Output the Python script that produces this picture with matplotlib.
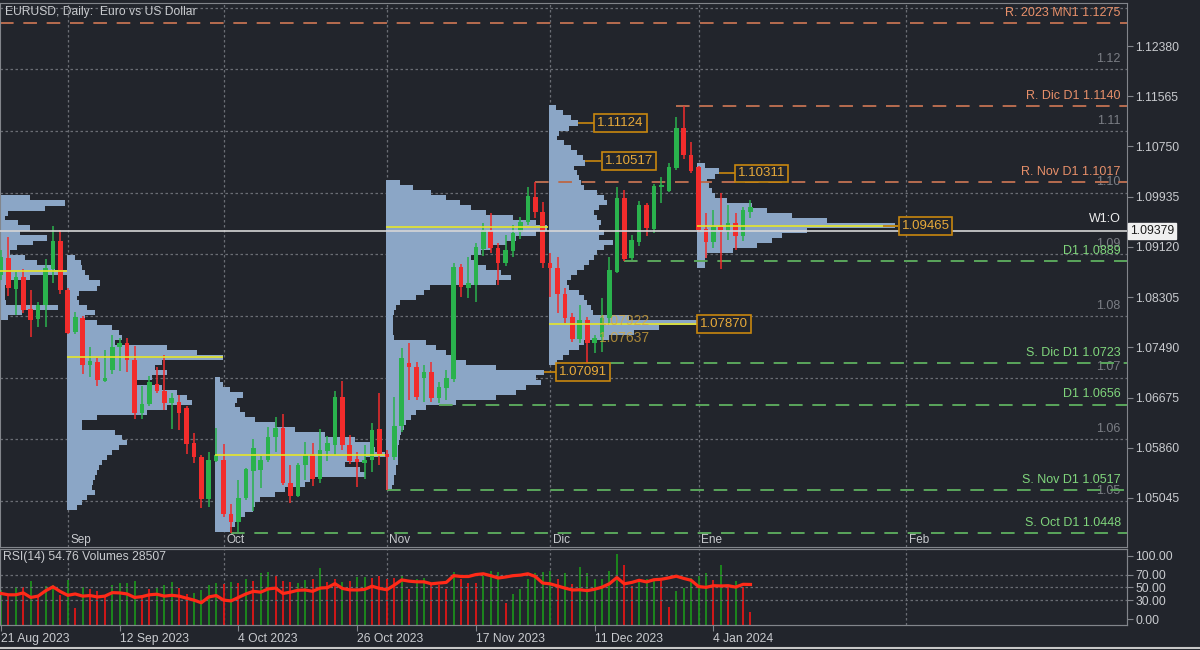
import numpy as np
import matplotlib.pyplot as plt
from matplotlib.lines import Line2D
from matplotlib.transforms import blended_transform_factory, offset_copy

plt.rcParams['font.family'] = ['Liberation Sans', 'DejaVu Sans']

# ---------------- data (EURUSD daily, 21 Aug 2023 .. 11 Jan 2024) ----------------
open_ = [1.0866, 1.0894, 1.0844, 1.0863, 1.0811, 1.0795, 1.0818, 1.0876, 1.0922, 1.0842,
         1.0774, 1.0797, 1.0720, 1.0725, 1.0694, 1.0712, 1.0750, 1.0756, 1.0728, 1.0643,
         1.0657, 1.0690, 1.0678, 1.0659, 1.0660, 1.0651, 1.0594, 1.0571, 1.0503, 1.0565,
         1.0566, 1.0479, 1.0466, 1.0505, 1.0548, 1.0550, 1.0566, 1.0604, 1.0618, 1.0529,
         1.0508, 1.0558, 1.0576, 1.0535, 1.0581, 1.0591, 1.0668, 1.0591, 1.0568, 1.0561,
         1.0566, 1.0617, 1.0576, 1.0571, 1.0621, 1.0724, 1.0717, 1.0699, 1.0709, 1.0667,
         1.0683, 1.0698, 1.0879, 1.0845, 1.0850, 1.0909, 1.0938, 1.0910, 1.0886, 1.0905,
         1.0936, 1.0952, 1.0993, 1.0969, 1.0886, 1.0878, 1.0836, 1.0798, 1.0763, 1.0793,
         1.0756, 1.0766, 1.0797, 1.0871, 1.0991, 1.0894, 1.0920, 1.0980, 1.0941, 1.1009,
         1.1003, 1.1040, 1.1105, 1.1061, 1.1042, 1.0941, 1.0920, 1.0944, 1.0938, 1.0951,
         1.0930, 1.0969]
high = [1.0907, 1.0928, 1.0871, 1.0876, 1.0842, 1.0823, 1.0892, 1.0946, 1.0940, 1.0845,
        1.0806, 1.0800, 1.0750, 1.0732, 1.0745, 1.0769, 1.0764, 1.0764, 1.0751, 1.0686,
        1.0703, 1.0717, 1.0737, 1.0675, 1.0672, 1.0654, 1.0610, 1.0574, 1.0579, 1.0618,
        1.0592, 1.0495, 1.0534, 1.0553, 1.0600, 1.0573, 1.0620, 1.0636, 1.0641, 1.0558,
        1.0561, 1.0595, 1.0594, 1.0617, 1.0605, 1.0678, 1.0694, 1.0607, 1.0579, 1.0591,
        1.0626, 1.0675, 1.0582, 1.0668, 1.0748, 1.0756, 1.0725, 1.0720, 1.0725, 1.0693,
        1.0712, 1.0886, 1.0884, 1.0896, 1.0918, 1.0951, 1.0967, 1.0918, 1.0931, 1.0948,
        1.0961, 1.1009, 1.1017, 1.0985, 1.0902, 1.0896, 1.0845, 1.0805, 1.0818, 1.0798,
        1.0769, 1.0829, 1.0896, 1.1009, 1.1004, 1.0931, 1.0987, 1.0983, 1.1014, 1.1025,
        1.1048, 1.1123, 1.1140, 1.1082, 1.1043, 1.0967, 1.0972, 1.0999, 1.0980, 1.0967,
        1.0977, 1.0988]
low = [1.0858, 1.0832, 1.0802, 1.0805, 1.0766, 1.0782, 1.0782, 1.0854, 1.0836, 1.0771,
       1.0771, 1.0706, 1.0701, 1.0686, 1.0693, 1.0706, 1.0710, 1.0709, 1.0633, 1.0633,
       1.0654, 1.0675, 1.0647, 1.0617, 1.0615, 1.0576, 1.0561, 1.0488, 1.0490, 1.0563,
       1.0474, 1.0448, 1.0449, 1.0501, 1.0484, 1.0521, 1.0563, 1.0579, 1.0526, 1.0496,
       1.0506, 1.0534, 1.0524, 1.0529, 1.0565, 1.0574, 1.0582, 1.0560, 1.0522, 1.0535,
       1.0547, 1.0558, 1.0517, 1.0566, 1.0612, 1.0664, 1.0664, 1.0660, 1.0660, 1.0659,
       1.0664, 1.0693, 1.0831, 1.0829, 1.0823, 1.0897, 1.0902, 1.0850, 1.0881, 1.0896,
       1.0925, 1.0948, 1.0959, 1.0878, 1.0831, 1.0805, 1.0789, 1.0758, 1.0756, 1.0724,
       1.0740, 1.0742, 1.0789, 1.0870, 1.0889, 1.0891, 1.0913, 1.0930, 1.0935, 1.0983,
       1.1001, 1.1037, 1.1055, 1.1032, 1.0936, 1.0894, 1.0910, 1.0876, 1.0923, 1.0907,
       1.0922, 1.0959]
close = [1.0896, 1.0845, 1.0863, 1.0810, 1.0793, 1.0818, 1.0878, 1.0922, 1.0842, 1.0772,
         1.0798, 1.0720, 1.0727, 1.0696, 1.0699, 1.0750, 1.0756, 1.0728, 1.0643, 1.0657,
         1.0693, 1.0678, 1.0659, 1.0667, 1.0643, 1.0592, 1.0571, 1.0503, 1.0566, 1.0574,
         1.0479, 1.0466, 1.0505, 1.0552, 1.0586, 1.0566, 1.0604, 1.0618, 1.0529, 1.0508,
         1.0558, 1.0574, 1.0535, 1.0582, 1.0594, 1.0668, 1.0591, 1.0565, 1.0563, 1.0566,
         1.0615, 1.0576, 1.0571, 1.0621, 1.0732, 1.0717, 1.0668, 1.0709, 1.0667, 1.0685,
         1.0699, 1.0879, 1.0847, 1.0854, 1.0912, 1.0940, 1.0910, 1.0886, 1.0907, 1.0935,
         1.0952, 1.0995, 1.0969, 1.0886, 1.0878, 1.0836, 1.0797, 1.0763, 1.0793, 1.0756,
         1.0764, 1.0797, 1.0875, 1.0991, 1.0892, 1.0923, 1.0980, 1.0943, 1.1011, 1.1012,
         1.1042, 1.1105, 1.1061, 1.1035, 1.0940, 1.0920, 1.0944, 1.0940, 1.0951, 1.0930,
         1.0972, 1.0977]

rsi = [40.5, 38.4, 38.4, 41.4, 34.2, 36.3, 44.7, 51.0, 43.5, 37.6,
       39.7, 36.3, 37.2, 35.0, 36.3, 41.8, 41.4, 39.7, 34.2, 35.5,
       38.4, 39.3, 36.3, 37.6, 36.3, 33.0, 30.0, 25.8, 35.0, 37.2,
       30.0, 28.7, 34.2, 39.7, 43.9, 42.6, 47.7, 49.0, 40.5, 42.6,
       45.6, 46.0, 43.9, 49.0, 49.8, 56.1, 48.5, 46.2, 46.0, 47.0,
       52.0, 48.5, 46.4, 53.7, 62.0, 60.0, 59.0, 59.0, 55.8, 57.0,
       58.0, 68.7, 67.4, 67.4, 70.5, 71.7, 68.7, 65.0, 66.6, 68.7,
       69.6, 71.7, 67.4, 57.0, 55.8, 52.4, 49.0, 46.0, 46.4, 45.0,
       47.2, 50.5, 56.0, 65.7, 55.8, 58.0, 61.4, 58.8, 62.3, 63.0,
       65.3, 67.9, 64.4, 61.4, 51.5, 50.2, 52.8, 52.4, 52.8, 50.6,
       55.0, 54.76]

volume = [75000, 65800, 82100, 81000, 94300, 64300, 84200, 86000, 64300, 96400,
          37100, 82100, 76500, 72900, 64300, 85700, 89400, 90500, 94300, 64300,
          77100, 78600, 85700, 91500, 79900, 65800, 67900, 75000, 85700, 89400,
          87200, 91500, 89400, 97900, 94300, 110800, 112900, 105600, 94300, 91500,
          89400, 96400, 97900, 122800, 92800, 97900, 91500, 94300, 103500, 102200,
          100100, 105600, 97900, 101400, 105000, 77800, 97900, 101400, 87200, 86000,
          76500, 113600, 99200, 89400, 90600, 105000, 115700, 113600, 47800, 65800,
          77800, 99200, 112100, 113600, 115700, 99200, 112100, 87200, 124900, 110800,
          97900, 97900, 115700, 151500, 127900, 83600, 94300, 97900, 99000, 94300,
          39200, 72900, 78600, 101400, 105000, 110800, 96400, 127900, 82100, 94300,
          82100, 28507]
vol_up = [1, 0, 1, 0, 1, 0, 1, 1, 0, 1,
          0, 1, 0, 0, 0, 1, 1, 1, 1, 0,
          0, 1, 1, 1, 0, 0, 1, 1, 1, 1,
          0, 1, 0, 1, 0, 1, 1, 0, 0, 0,
          1, 1, 0, 1, 0, 0, 1, 0, 1, 1,
          0, 0, 0, 0, 1, 0, 1, 1, 0, 0,
          0, 1, 0, 0, 0, 1, 1, 1, 0, 1,
          1, 1, 1, 1, 1, 0, 1, 0, 1, 1,
          1, 1, 1, 1, 0, 0, 1, 1, 1, 0,
          0, 1, 1, 1, 1, 1, 0, 1, 0, 1,
          0, 0]

month_bars = [9, 30, 52, 74, 94, 122]
month_names = ['Sep', 'Oct', 'Nov', 'Dic', 'Ene', 'Feb']
date_bars = [0, 16, 32, 48, 64, 80, 96]
date_labels = ['21 Aug 2023', '12 Sep 2023', '4 Oct 2023', '26 Oct 2023',
               '17 Nov 2023', '11 Dec 2023', '4 Jan 2024']

price_ticks = [1.12380, 1.11565, 1.10750, 1.09935, 1.09120,
               1.08305, 1.07490, 1.06675, 1.05860, 1.05045]
round_levels = [1.05, 1.06, 1.07, 1.08, 1.09, 1.10, 1.11, 1.12, 1.13]

level_names = ['R. 2023 MN1 1.1275', 'R. Dic D1 1.1140', 'R. Nov D1 1.1017', 'D1 1.0889',
               'S. Dic D1 1.0723', 'D1 1.0656', 'S. Nov D1 1.0517', 'S. Oct D1 1.0448']
level_prices = [1.1275, 1.1140, 1.1017, 1.0889, 1.0723, 1.0656, 1.0517, 1.0448]
level_kind = ['R', 'R', 'R', 'S', 'S', 'S', 'S', 'S']

week_open = 1.09379

# monthly volume profiles: top price level and volume per price row
prof_aug_top, prof_aug_vol = 1.09914, [30, 65, 45, 8, 5, 18, 30, 20, 47, 33, 17, 10, 25, 37, 55, 67,
                                       30, 8, 5, 5, 5, 6, 58, 22, 8]
prof_sep_top, prof_sep_vol = 1.08940, [8, 14, 15, 18, 22, 33, 30, 12, 10, 12, 20, 28, 18, 30, 45, 52,
                                       55, 48, 100, 130, 156, 95, 88, 100, 85, 70, 95, 110, 120, 125,
                                       100, 80, 30, 15, 15, 48, 55, 60, 52, 45, 40, 35, 32, 30, 28, 26,
                                       25, 28, 20, 15, 10]
prof_oct_top, prof_oct_vol = 1.06960, [5, 8, 15, 28, 22, 20, 25, 30, 40, 60, 80, 110, 140, 155, 160,
                                       170, 150, 130, 145, 150, 95, 90, 70, 60, 45, 40, 38, 30, 25,
                                       20, 15]
prof_nov_top, prof_nov_vol = 1.10157, [14, 27, 45, 60, 74, 85, 100, 127, 150, 161, 150, 130, 120, 105,
                                       95, 85, 90, 100, 115, 125, 110, 44, 38, 30, 14, 10, 8, 7, 7,
                                       7, 7, 8, 40, 50, 60, 70, 80, 110, 158, 150, 155, 140, 130, 110,
                                       70, 40, 30, 25, 20, 18, 15, 14, 13, 12, 12, 12, 12, 10, 10, 8,
                                       8, 6]
prof_dec_top, prof_dec_vol = 1.11374, [7, 14, 22, 29, 20, 10, 8, 15, 22, 28, 34, 36, 25, 28, 30, 32,
                                       35, 48, 55, 58, 50, 45, 48, 52, 50, 55, 50, 64, 55, 48, 45, 40,
                                       35, 28, 22, 18, 20, 30, 35, 38, 42, 44, 80, 148, 110, 85, 60,
                                       35, 30, 20, 14, 8]
prof_jan_top, prof_jan_vol = 1.10433, [8, 22, 18, 10, 12, 15, 18, 30, 55, 70, 95, 130, 198, 110, 85,
                                       75, 60, 36, 10, 8, 8]
poc_prices = [1.0873, 1.0733, 1.0574, 1.0944, 1.0787, 1.09465]
prof_label_values = [1.11124, 1.10517, 1.10311, 1.09465, 1.07870, 1.07091]
ghost_label_values = [1.07922, 1.07637]

# ---------------- style ----------------
BG = '#22252c'
GRID = '#6a6d74'
FRAME = '#82858b'
TXT = '#c9cbcf'
UP = '#2ab24d'
DOWN = '#f22c2c'
PROF = '#8ba6c6'
R_LINE, R_TXT = '#b86c4f', '#e8906a'
S_LINE, S_TXT = '#5aa65c', '#80d67c'
XMIN, XMAX = -0.135, 151.75
PROF_STEP = 0.00081
PROF_SCALE = 1 / 7.42
LBL_X = 150.9

n = len(close)
x = np.arange(n)
o, h, l, c = map(np.array, (open_, high, low, close))

fig = plt.figure(figsize=(12, 6.5), dpi=100, facecolor=BG)
ax = fig.add_axes([0.0, 0.1585, 0.9392, 0.8369])
ax.set_facecolor(BG)
ax.set_xlim(XMIN, XMAX)
ax.set_ylim(1.0425, 1.13078)
above = offset_copy(ax.transData, fig=fig, y=3, units='points')

for lv in round_levels:
    ax.axhline(lv, color=GRID, ls=(0, (2, 2)), lw=0.9, zorder=0)
for mb in month_bars:
    ax.axvline(mb, color=GRID, ls=(0, (2, 2)), lw=0.9, zorder=0)
for lv in round_levels[:-1]:
    ax.text(LBL_X, lv, f'{lv:.2f}', color='#7b7e85', fontsize=9, ha='right', va='bottom',
            transform=above, zorder=1)

# volume profiles
profiles = [(prof_aug_top, prof_aug_vol), (prof_sep_top, prof_sep_vol), (prof_oct_top, prof_oct_vol),
            (prof_nov_top, prof_nov_vol), (prof_dec_top, prof_dec_vol), (prof_jan_top, prof_jan_vol)]
prof_base = [XMIN, 8.9, 28.84, 51.89, 73.85, 93.8]
poc_end = [8.9, 29.9, 51.75, 73.7, 93.8, 118.9]
for (top, vols), base in zip(profiles, prof_base):
    vols = np.array(vols)
    levels = top - PROF_STEP * np.arange(len(vols))
    ax.barh(levels, vols * PROF_SCALE, left=base, height=PROF_STEP * 1.05,
            color=PROF, lw=0, zorder=1)

# support / resistance levels
level_start = [XMIN, 91.0, 72.0, 84.0, 79.0, 59.0, 52.0, 31.0]
for name, price, start, kind in zip(level_names, level_prices, level_start, level_kind):
    lc, tc = (R_LINE, R_TXT) if kind == 'R' else (S_LINE, S_TXT)
    ax.hlines(price, start, XMAX, colors=lc, linestyles=(0, (7, 5)), lw=1.4, zorder=2)
    ax.text(LBL_X, price, name, color=tc, fontsize=9, ha='right', va='bottom',
            transform=above, zorder=6)

# candles
col = np.where(c >= o, UP, DOWN)
ax.vlines(x, l, h, colors=col, lw=1.1, zorder=3)
ax.bar(x, np.maximum(np.abs(c - o), 0.00012), bottom=np.minimum(o, c), width=0.62,
       color=col, lw=0, zorder=3)

# POC lines
for price, base, end in zip(poc_prices, prof_base, poc_end):
    ax.hlines(price, base, end, colors='#e6e62a', lw=1.2, zorder=4)
ax.hlines(poc_prices[-1], poc_end[-1], 120.9, colors='#8c8c22', lw=1.2, zorder=4)

# week open line
ax.axhline(week_open, color='#d6d6d6', lw=1.2, zorder=4)
ax.text(LBL_X, week_open, 'W1:O', color='#eeeeee', fontsize=9, ha='right', va='bottom',
        transform=offset_copy(ax.transData, fig=fig, y=4, units='points'), zorder=6)
ax.text(1.0025, week_open, f'{week_open:.5f}', transform=blended_transform_factory(ax.transAxes, ax.transData),
        ha='left', va='center', fontsize=8.7, color='#1c1c1c', clip_on=False, zorder=10,
        bbox=dict(boxstyle='square,pad=0.15', fc='#f0f0f0', ec='#f0f0f0'))

# profile price labels
box_left = [79.9, 80.9, 98.9, 120.9, 93.8, 74.8]
conn_from = [77.8, 78.7, 96.8, 118.9, 93.8, 73.2]
for v, bl, cf in zip(prof_label_values, box_left, conn_from):
    ax.hlines(v, cf, bl, colors='#c8870e', lw=1.2, zorder=5)
    ax.text(bl + 0.45, v, f'{v:.5f}', color='#e8aa3a', fontsize=9.5, ha='left', va='center', zorder=6,
            bbox=dict(boxstyle='square,pad=0.22', fc=BG, ec='#c8870e', lw=1.2))
for v in ghost_label_values:
    ax.text(80.6, v, f'{v:.5f}', color='#d8a83c', alpha=0.75, fontsize=10, ha='left', va='center', zorder=6)

# month labels and title
mtrans = blended_transform_factory(ax.transData, ax.transAxes)
for mb, name in zip(month_bars, month_names):
    ax.text(mb + 0.35, 0.013, name, transform=mtrans, color=TXT, fontsize=8.5, ha='left', va='center')
ax.text(0.004, 0.984, 'EURUSD, Daily:  Euro vs US Dollar', transform=ax.transAxes,
        color=TXT, fontsize=8.7, ha='left', va='center')

ax.yaxis.tick_right()
ax.set_yticks(price_ticks)
ax.set_yticklabels([f'{t:.5f}' for t in price_ticks])
ax.tick_params(axis='y', colors=FRAME, labelcolor=TXT, labelsize=8.7, length=4, pad=2)
ax.tick_params(axis='x', bottom=False, labelbottom=False)
for s in ax.spines.values():
    s.set_color(FRAME)

# ---------------- RSI + volumes panel ----------------
axv = fig.add_axes([0.0, 0.03846, 0.9392, 0.11692])
axv.set_facecolor(BG)
axv.set_xlim(XMIN, XMAX)
axv.set_ylim(0, 162900)
vcol = np.where(np.array(vol_up) == 1, '#1c8f1c', '#e01616')
axv.vlines(x, 0, volume, colors=vcol, lw=1.3, zorder=2)
for mb in month_bars:
    axv.axvline(mb, color=GRID, ls=(0, (2, 2)), lw=0.9, zorder=0)
axv.set_yticks([])
axv.set_xticks(date_bars)
axv.set_xticklabels(date_labels, ha='left')
axv.tick_params(axis='x', colors=FRAME, labelcolor=TXT, labelsize=8.7, length=4, pad=2)
axv.text(0.003, 0.9, f'RSI(14) {rsi[-1]:.2f} Volumes {volume[-1]}', transform=axv.transAxes,
         color=TXT, fontsize=8.7, ha='left', va='center')

axr = axv.twinx()
axr.set_ylim(-9.5, 111)
for lv in [30, 50, 70]:
    axr.axhline(lv, color=GRID, ls=(0, (2, 2)), lw=0.9, zorder=1)
axr.plot(x, rsi, color='#ff2a18', lw=2.3, zorder=3)
axr.set_yticks([0, 30, 50, 70, 100])
axr.set_yticklabels(['0.00', '30.00', '50.00', '70.00', '100.00'])
axr.tick_params(axis='y', colors=FRAME, labelcolor=TXT, labelsize=8.7, length=4, pad=2)
for a in (axv, axr):
    for s in a.spines.values():
        s.set_color(FRAME)

fig.add_artist(Line2D([0, 1], [0.003, 0.003], color='#c8c8c8', lw=1.5))

plt.savefig('out.png', dpi=100, facecolor=BG)
